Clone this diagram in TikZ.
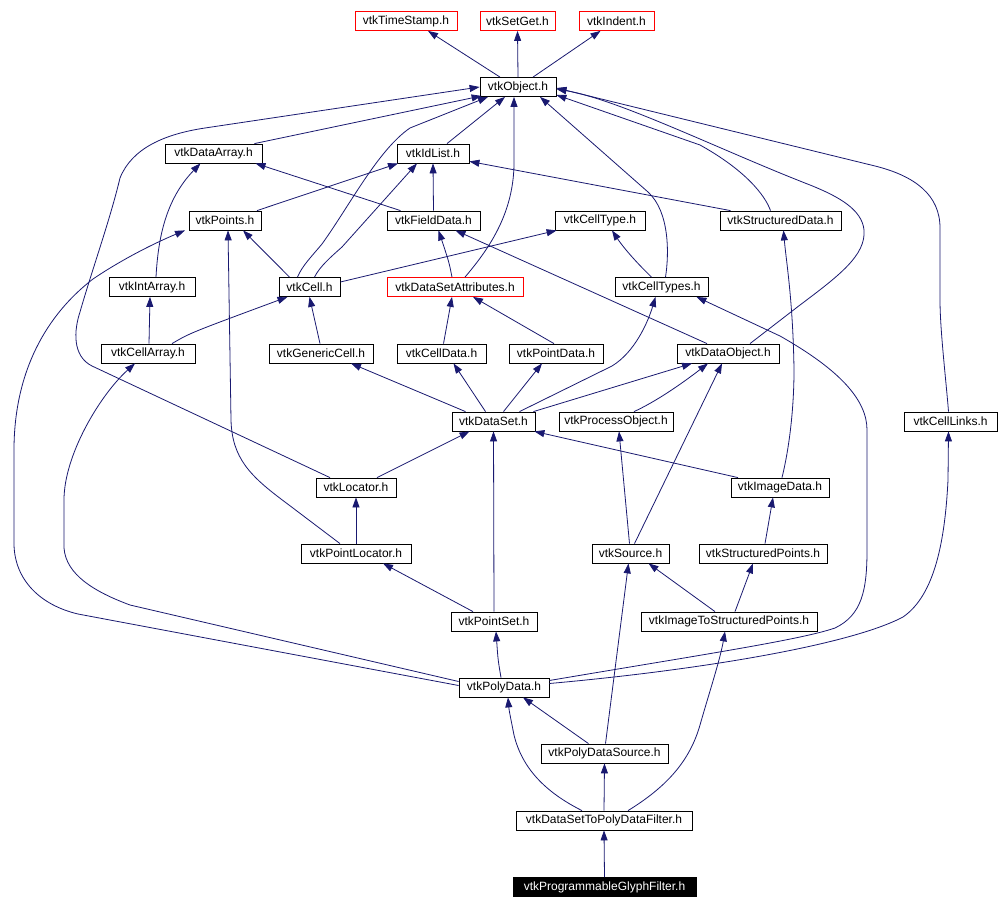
\documentclass[tikz,border=0pt]{standalone}
\usepackage{fontspec}
\setmainfont{Liberation Sans}
\usetikzlibrary{arrows.meta}
\definecolor{edgeblue}{HTML}{191970}
\definecolor{boxred}{HTML}{FF0000}
\begin{document}
\begin{tikzpicture}[x=1pt,y=-1pt,
  box/.style={draw=black,line width=0.8pt,fill=white,inner sep=0pt,minimum height=19pt,
    font=\fontsize{12}{14}\selectfont,text=black},
  redbox/.style={box,draw=boxred},
  mainbox/.style={box,fill=black,text=white},
  e/.style={draw=edgeblue,line width=0.8pt,-{Triangle[length=10pt,width=7pt]}}]
\useasboundingbox (0,0) rectangle (1000,909);
\fill[white] (0,0) rectangle (1000,909);
% nodes
\node[redbox,minimum width=102pt] (ts) at (406,21) {vtkTimeStamp.h};
\node[redbox,minimum width=75pt] (sg) at (517.5,21) {vtkSetGet.h};
\node[redbox,minimum width=75pt] (ind) at (616.5,21) {vtkIndent.h};
\node[box,minimum width=76pt] (obj) at (518,87) {vtkObject.h};
\node[box,minimum width=97pt] (da) at (213.5,153.5) {vtkDataArray.h};
\node[box,minimum width=72pt] (idl) at (433,153.5) {vtkIdList.h};
\node[box,minimum width=72pt] (pts) at (225,220.5) {vtkPoints.h};
\node[box,minimum width=93pt] (fd) at (433.5,220.5) {vtkFieldData.h};
\node[box,minimum width=90pt] (ct) at (600,220.5) {vtkCellType.h};
\node[box,minimum width=121pt] (sd) at (780.5,220.5) {vtkStructuredData.h};
\node[box,minimum width=86pt] (ia) at (152,287) {vtkIntArray.h};
\node[box,minimum width=61pt] (cell) at (309.5,287) {vtkCell.h};
\node[redbox,minimum width=136pt] (dsa) at (455,287) {vtkDataSetAttributes.h};
\node[box,minimum width=93pt] (cts) at (661.5,287) {vtkCellTypes.h};
\node[box,minimum width=94pt] (ca) at (148,353.5) {vtkCellArray.h};
\node[box,minimum width=104pt] (gc) at (321,353.5) {vtkGenericCell.h};
\node[box,minimum width=89pt] (cd) at (441.5,353.5) {vtkCellData.h};
\node[box,minimum width=94pt] (pd) at (556,353.5) {vtkPointData.h};
\node[box,minimum width=102pt] (dobj) at (728,353.5) {vtkDataObject.h};
\node[box,minimum width=83pt] (ds) at (493.5,421.5) {vtkDataSet.h};
\node[box,minimum width=114pt] (po) at (616,421.5) {vtkProcessObject.h};
\node[box,minimum width=93pt] (cl) at (950.5,421.5) {vtkCellLinks.h};
\node[box,minimum width=80pt] (loc) at (356,487.5) {vtkLocator.h};
\node[box,minimum width=98pt] (img) at (780,487.5) {vtkImageData.h};
\node[box,minimum width=110pt] (ploc) at (356,553.5) {vtkPointLocator.h};
\node[box,minimum width=77pt] (src) at (630.5,553.5) {vtkSource.h};
\node[box,minimum width=128pt] (sp) at (763,553.5) {vtkStructuredPoints.h};
\node[box,minimum width=86pt] (pset) at (494,621.5) {vtkPointSet.h};
\node[box,minimum width=176pt] (itsp) at (729,621.5) {vtkImageToStructuredPoints.h};
\node[box,minimum width=90pt] (poly) at (504,687.5) {vtkPolyData.h};
\node[box,minimum width=127pt] (pds) at (604.5,753.5) {vtkPolyDataSource.h};
\node[box,minimum width=176pt] (dstp) at (604,820.5) {vtkDataSetToPolyDataFilter.h};
\node[mainbox,minimum width=183pt] (pgf) at (604.5,887) {vtkProgrammableGlyphFilter.h};
% edges
\draw[e] ([xshift=-18pt]obj.north) -- ([xshift=22pt]ts.south);
\draw[e] (obj.north) -- (sg.south);
\draw[e] ([xshift=15pt]obj.north) -- ([xshift=-16pt]ind.south);
\draw[e] ([xshift=-8pt]da.north east) -- ([xshift=2pt,yshift=1pt]obj.south west);
\draw[e] ([xshift=-26pt]loc.north) -- (92,366) .. controls (72,356) and (74,330) .. (80,312) .. controls (92,270) and (110,220) .. (120,178) .. controls (132,148) and (165,134) .. (205,128) -- (obj.west);
\draw[e] ([xshift=14pt]idl.north) -- ([xshift=-13pt]obj.south);
\draw[e] ([xshift=-12pt]cell.north) .. controls (302,266) and (312,256) .. (322,244) .. controls (350,205) and (378,150) .. (410,128) -- ([xshift=-30pt]obj.south);
\draw[e] ([xshift=5pt]cell.north) .. controls (320,266) and (332,256) .. (342,247) -- ([xshift=-16pt]idl.south);
\draw[e] ([xshift=10pt]dsa.north) .. controls (488,250) and (513,215) .. (514,165) -- ([xshift=-4pt]obj.south);
\draw[e] ([xshift=4pt]cts.north) .. controls (669,255) and (670,212) .. (648,192) -- ([xshift=22pt]obj.south);
\draw[e] ([xshift=-10pt]sd.north) .. controls (765,195) and (745,170) .. (700,145) -- ([yshift=2pt]obj.south east);
\draw[e] ([xshift=22pt]dobj.north) -- (800,305) .. controls (840,275) and (866,255) .. (864,230) .. controls (862,210) and (840,197) .. (810,185) .. controls (720,150) and (620,100) .. ([yshift=-2pt]obj.east);
\draw[e] ([xshift=-2pt]cl.north) .. controls (946,380) and (940,330) .. (940,300) -- (940,228) .. controls (940,195) and (915,176) .. (875,166) -- ([yshift=-1pt]obj.east);
\draw[e] ([xshift=-33pt]fd.north) -- ([xshift=42pt]da.south);
\draw[e] (fd.north) -- (idl.south);
\draw[e] ([xshift=32pt]pts.north) -- ([xshift=-35pt]idl.south);
\draw[e] ([xshift=-50pt]sd.north) -- ([yshift=2pt]idl.south east);
\draw[e] ([xshift=4pt]ia.north) .. controls (158,240) and (165,200) .. ([xshift=-13pt]da.south);
\draw[e] ([xshift=-20pt]cell.north) -- ([xshift=18pt]pts.south);
\draw[e] ([yshift=5pt]cell.east) -- ([xshift=2pt]ct.south west);
\draw[e] ([xshift=-10pt]cts.north) .. controls (640,266) and (625,250) .. ([xshift=12pt]ct.south);
\draw[e] ([xshift=-3pt]dsa.north) .. controls (449,262) .. ([xshift=5pt]fd.south);
\draw[e] ([xshift=-21pt]dobj.north) -- ([xshift=22pt]fd.south);
\draw[e] ([xshift=2pt]img.north) .. controls (790,445) and (794,405) .. (794,370) .. controls (793,300) and (786,260) .. ([xshift=3pt]sd.south);
\draw[e] ([xshift=1pt]ca.north) -- ([xshift=-2pt]ia.south);
\draw[e] ([xshift=24pt]ca.north) .. controls (190,333) .. ([xshift=-22pt]cell.south);
\draw[e] ([xshift=-1pt]gc.north) -- (cell.south);
\draw[e] ([xshift=2pt]cd.north) -- ([xshift=-3pt]dsa.south);
\draw[e] ([xshift=-2pt]pd.north) -- ([xshift=18pt]dsa.south);
\draw[e] ([xshift=-28pt]ds.north) -- ([xshift=30pt]gc.south);
\draw[e] ([xshift=-8pt]ds.north) -- ([xshift=12pt]cd.south);
\draw[e] ([xshift=10pt]ds.north) -- ([xshift=-14pt]pd.south);
\draw[e] ([xshift=26pt]ds.north) -- (612,366) .. controls (635,352) and (648,322) .. ([xshift=-6pt]cts.south);
\draw[e] ([xshift=-2pt]ds.north east) -- ([xshift=-36pt]dobj.south);
\draw[e] ([xshift=18pt]po.north) .. controls (655,402) and (680,385) .. ([xshift=-20pt]dobj.south);
\draw[e] ([xshift=4pt]src.north) -- ([xshift=-6pt]dobj.south);
\draw[e] ([xshift=-1pt]src.north) -- ([xshift=3pt]po.south);
\draw[e] ([xshift=21pt]loc.north) -- ([xshift=-24pt]ds.south);
\draw[e] ([xshift=-42pt]img.north) -- ([xshift=-1pt]ds.south east);
\draw[e] (pset.north) -- (ds.south);
\draw[e] (ploc.north) -- (loc.south);
\draw[e] ([xshift=-16pt]ploc.north) -- (285,502) .. controls (250,476) and (232,458) .. (231,420) -- ([xshift=3pt]pts.south);
\draw[e] ([xshift=-21pt]pset.north) -- ([xshift=27pt]ploc.south);
\draw[e] ([xshift=2pt]sp.north) -- ([xshift=-7pt]img.south);
\draw[e] ([xshift=-14pt]itsp.north) -- ([xshift=18pt]src.south);
\draw[e] ([xshift=6pt]itsp.north) -- ([xshift=-10pt]sp.south);
\draw[e] ([yshift=2pt]poly.west) -- (78,614) .. controls (40,605) and (15,580) .. (14,545) -- (14,450) .. controls (14,380) and (40,320) .. (93,279) .. controls (118,262) and (150,245) .. ([xshift=-40pt]pts.south);
\draw[e] ([yshift=6pt]poly.west) -- (130,605) .. controls (95,592) and (66,575) .. (64,548) -- (64,500) .. controls (64,455) and (100,395) .. ([xshift=-13pt]ca.south);
\draw[e] ([xshift=-3pt]poly.north) .. controls (498,660) .. ([xshift=2pt]pset.south);
\draw[e] ([yshift=7pt]poly.east) .. controls (700,655) and (800,640) .. (835,628) .. controls (862,615) and (867,590) .. (867,550) -- (867,430) .. controls (867,400) and (840,370) .. (780,336) -- ([xshift=35pt]cts.south);
\draw[e] ([yshift=4pt]poly.east) .. controls (700,670) and (850,645) .. (903,617) .. controls (935,595) and (945,540) .. (948,480) -- ([xshift=-2pt]cl.south);
\draw[e] ([xshift=-16pt]pds.north) -- ([xshift=19pt]poly.south);
\draw[e] ([xshift=1pt]pds.north) -- ([xshift=-2pt]src.south);
\draw[e] ([xshift=-22pt]dstp.north) .. controls (545,792) and (522,768) .. (514,735) .. controls (511,720) and (509,710) .. ([xshift=4pt]poly.south);
\draw[e] (dstp.north) -- (pds.south);
\draw[e] ([xshift=24pt]dstp.north) .. controls (668,786) and (690,760) .. (700,725) .. controls (710,690) and (720,660) .. ([xshift=-4pt]itsp.south);
\draw[e] (pgf.north) -- (dstp.south);
\end{tikzpicture}
\end{document}
